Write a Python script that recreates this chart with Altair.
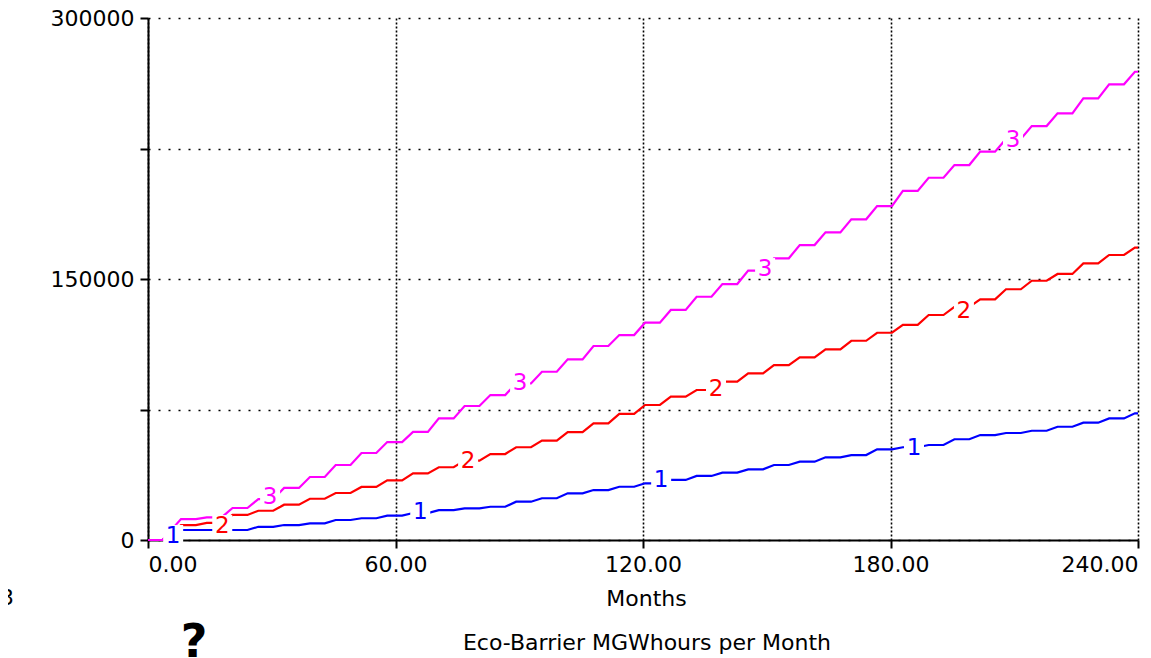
import altair as alt
import pandas as pd

# ---- data ----
axis_months = [0, 60, 120, 180, 240]
axis_values = [0, 75000, 150000, 225000, 300000]

series_names = ["1", "2", "3"]
series_colors = ["#0000FF", "#FF0000", "#FF00FF"]

# start of each stair plateau (months) and plateau length
step_months = [8 + 6.25 * k for k in range(38)]
plateau_len = 3.6

blue_levels = [5750, 5750, 5750, 7600, 8600, 9600, 11500, 12500, 14000, 15500,
               17200, 18200, 19100, 22000, 24000, 26800, 28700, 30600, 32600, 34500,
               36800, 38700, 40600, 43100, 45000, 47500, 48800, 52100, 53300, 54600,
               57900, 60300, 61500, 62800, 65100, 67400, 69900, 72800]
red_levels = [8600, 9800, 14400, 16800, 20300, 23700, 27000, 30500, 34300, 38300,
              41800, 45600, 49400, 53300, 57100, 62000, 67000, 72500, 77600, 82400,
              86200, 91000, 95800, 100500, 105000, 109500, 114500, 119100, 123600, 129300,
              134000, 138300, 144100, 149000, 152900, 159000, 163800, 168000]
magenta_levels = [12000, 13000, 18400, 23500, 29900, 36200, 43100, 50000, 56300, 62100,
                  69900, 77000, 83300, 90000, 96700, 103800, 111500, 117800, 124900, 132200,
                  139800, 147100, 154800, 161900, 169500, 176800, 184300, 191900, 200600, 208200,
                  215500, 223200, 230500, 237900, 245200, 253800, 261900, 269100]

label_series = ["1", "1", "1", "1", "2", "2", "2", "2", "3", "3", "3", "3"]
label_months = [6.1, 66, 124.4, 185.7, 18, 77.6, 137.7, 197.8, 29.6, 90.2, 149.6, 209.7]
label_values = [2900, 16700, 35000, 53400, 8600, 46000, 87400, 132200, 25300, 90800, 156300, 230500]

# ---- build the table ----
rows = []
for name, levels in zip(series_names, [blue_levels, red_levels, magenta_levels]):
    pts = [(0, 0), (3.5, 0)]
    for t, v in zip(step_months, levels):
        pts.append((t, v))
        pts.append((min(t + plateau_len, 240), v))
    for i, (t, v) in enumerate(pts):
        rows.append({"series": name, "month": t, "value": v, "i": i})
lines_df = pd.DataFrame(rows)

labels_df = pd.DataFrame({"series": label_series, "month": label_months, "value": label_values})

FONT = "DejaVu Sans"

xenc = alt.X("month:Q", scale=alt.Scale(domain=[0, 240], nice=False, zero=False),
             axis=alt.Axis(values=axis_months, format=".2f", title="Months",
                           labelFlush=True, gridDash=[2, 2], labelPadding=6,
                           titleX=498, titleY=65, titleBaseline="alphabetic",
                           titleAnchor="start", titleAlign="center"))
yenc = alt.Y("value:Q", scale=alt.Scale(domain=[0, 300000], nice=False),
             axis=alt.Axis(values=axis_values, format="d", title=None,
                           labelExpr="datum.value % 150000 == 0 ? datum.label : ''",
                           gridDash=[2, 8], labelPadding=6))
cenc = alt.Color("series:N", scale=alt.Scale(domain=series_names, range=series_colors), legend=None)

lines = alt.Chart(lines_df).mark_line(strokeWidth=2.2, interpolate="linear").encode(
    x=xenc, y=yenc, color=cenc, order="i:Q", detail="series:N")

boxes = alt.Chart(labels_df).mark_square(size=400, color="white", opacity=1, filled=True, strokeWidth=0).encode(
    x="month:Q", y="value:Q")

texts = alt.Chart(labels_df).mark_text(font=FONT, fontSize=23, baseline="middle", align="center", dy=1).encode(
    x="month:Q", y="value:Q", text="series:N", color=cenc)

note_df = pd.DataFrame({"t": ["Eco-Barrier MGWhours per Month"]})
note = alt.Chart(note_df).mark_text(font=FONT, fontSize=22, align="center", baseline="alphabetic",
                                    color="black").encode(
    x=alt.value(499), y=alt.value(632), text="t:N")

q_df = pd.DataFrame({"t": ["?"]})
qmark = alt.Chart(q_df).mark_text(font=FONT, fontSize=46, fontWeight="bold", align="center",
                                  baseline="alphabetic", color="black").encode(
    x=alt.value(46), y=alt.value(639), text="t:N")

edge_df = pd.DataFrame({"t": ["3"]})
edge = alt.Chart(edge_df).mark_text(font=FONT, fontSize=22, align="right",
                                    baseline="alphabetic", color="black").encode(
    x=alt.value(-134), y=alt.value(587), text="t:N")

chart = alt.layer(lines, boxes, texts, note, qmark, edge).properties(
    width=990, height=522,
    padding={"left": 140, "top": 10, "right": 5, "bottom": 118},
    autosize=alt.AutoSizeParams(type="none"),
).configure_view(stroke=None).configure_axis(
    domainColor="black", domainWidth=2, tickColor="black", tickWidth=2, tickSize=8,
    labelFont=FONT, labelFontSize=22, labelColor="black",
    titleFont=FONT, titleFontSize=22, titleFontWeight="normal", titleColor="black",
    gridColor="black", gridWidth=1.6, gridOpacity=1,
)

chart.save("out.html", embed_options={"renderer": "svg", "actions": False})
